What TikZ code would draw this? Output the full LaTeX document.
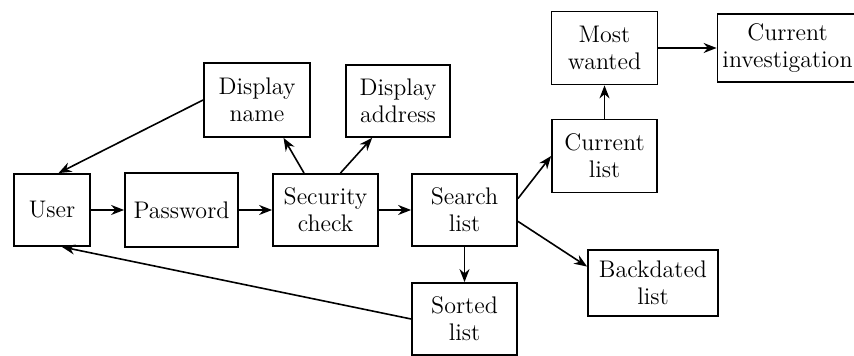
\documentclass[tikz,border=0pt]{standalone}
\usetikzlibrary{arrows.meta,positioning}

\begin{document}
\begin{tikzpicture}[on grid,
    box/.style={draw,line width=0.9pt,align=center,inner sep=0pt,
      minimum width=52.5pt,minimum height=36pt,
      font=\fontsize{12}{13.5}\selectfont},
    >={Stealth[length=6.5pt,width=5pt]}]
  \useasboundingbox (-26pt,-73pt) rectangle (401pt,105pt);
  % main row
  \node[box,minimum width=38pt] (user) {User};
  \node[box,minimum width=56.5pt,minimum height=37pt] (pwd) [right=64.75pt of user] {Password};
  \node[box] (sec) [right=72pt of pwd] {Security\\check};
  \node[box] (search) [right=69.5pt of sec] {Search\\list};
  % branches
  \node[box,minimum width=53pt,minimum height=37pt] (dname) [above left=55pt and 34.25pt of sec] {Display\\name};
  \node[box,minimum width=52pt] (daddr) [above right=54.5pt and 36.25pt of sec] {Display\\address};
  \node[box] (sorted) [below=54.5pt of search] {Sorted\\list};
  \node[box,minimum width=65pt,minimum height=33pt] (back) [below right=36.5pt and 94.25pt of search] {Backdated\\list};
  \node[box,minimum height=36.5pt] (curlist) [above right=27pt and 70pt of search] {Current\\list};
  \node[box,minimum width=53pt,minimum height=36.5pt] (most) [above=54pt of curlist] {Most\\wanted};
  \node[box,minimum width=70pt,minimum height=34pt,inner xsep=1pt] (curinv) [right=91.5pt of most] {Current\\investigation};
  \path[->,line width=0.8pt]
    (user) edge (pwd)
    (pwd) edge (sec)
    (sec) edge (search)
          edge (dname.-55)
    (sec.68) edge (daddr.-125)
    (dname.west) edge (user.80)
    (search) edge (sorted)
    (search.12) edge (curlist.west)
    (search.-12) edge (back.166)
    (sorted.west) edge (user.-75)
    (curlist) edge (most)
    (most) edge (curinv);
\end{tikzpicture}
\end{document}
